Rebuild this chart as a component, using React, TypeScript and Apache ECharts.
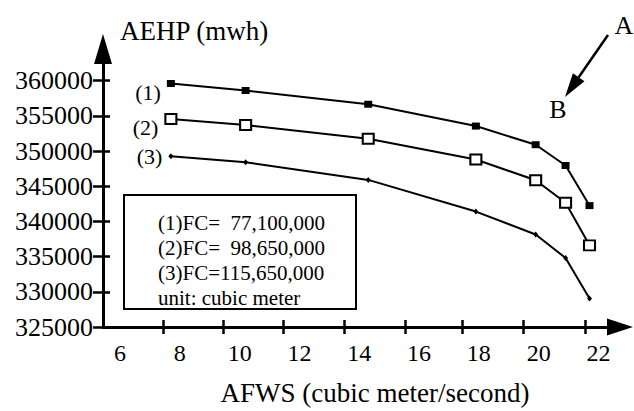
import React, { useEffect, useRef } from "react";
import * as echarts from "echarts";

const FONT = "Liberation Serif";

// AFWS values (cubic meter/second)
const afws = [7.7, 10.2, 14.3, 17.9, 19.9, 20.9, 21.7];
// AEHP (mwh) for each FC case
const series1 = [359600, 358600, 356650, 353550, 350900, 347950, 342250];
const series2 = [354550, 353700, 351750, 348800, 345850, 342650, 336600];
const series3 = [349250, 348400, 345900, 341400, 338150, 334800, 329050];
const seriesNames = ["(1)", "(2)", "(3)"];

const xLabelValues = [6, 8, 10, 12, 14, 16, 18, 20, 22];
const xTickValues = [7.45, 9.45, 11.45, 13.5, 15.55, 17.45, 19.5, 21.55];
const yTickValues = [325000, 330000, 335000, 340000, 345000, 350000, 355000, 360000];

const boxLines = [
  "(1)FC=\u00a0\u00a077,100,000",
  "(2)FC=\u00a0\u00a098,650,000",
  "(3)FC=115,650,000",
  "unit: cubic meter",
];

export default function App() {
  const ref = useRef<HTMLDivElement>(null);

  useEffect(() => {
    if (!ref.current) return;
    const chart = echarts.init(ref.current, null, { renderer: "svg" });

    const xMin = 5.43;
    const xMax = 22.72;
    const yMin = 325000;
    const yMax = 364500;

    const mk = (vals: number[]) => vals.map((v, i) => [afws[i], v]);

    const firstLabel = (name: string, offset: number[]) => ({
      show: true,
      position: "left",
      formatter: name,
      offset,
      color: "#000",
      fontFamily: FONT,
      fontSize: 22,
    });

    const buildData = (vals: number[], name: string, offset: number[]) =>
      mk(vals).map((p, i) =>
        i === 0 ? { value: p, label: firstLabel(name, offset) } : { value: p }
      );

    const headTip = [565, 97];
    const tail = [608, 35];
    const dx = headTip[0] - tail[0];
    const dy = headTip[1] - tail[1];
    const len = Math.sqrt(dx * dx + dy * dy);
    const ux = dx / len;
    const uy = dy / len;
    const hl = 24;
    const hw = 7;
    const bx = headTip[0] - ux * hl;
    const by = headTip[1] - uy * hl;

    chart.setOption({
      animation: false,
      backgroundColor: "#fff",
      grid: { left: 103, right: 14, top: 49, bottom: 80, containLabel: false },
      xAxis: [
        {
          type: "value",
          min: xMin,
          max: xMax,
          position: "bottom",
          name: "AFWS (cubic meter/second)",
          nameLocation: "middle",
          nameGap: 52,
          nameTextStyle: {
            color: "#000",
            fontFamily: FONT,
            fontSize: 27,
            padding: [0, 0, 0, 27],
          },
          axisLine: {
            show: true,
            lineStyle: { color: "#000", width: 3 },
            symbol: ["none", "triangle"],
            symbolSize: [17, 26],
          },
          axisTick: {
            show: true,
            length: 7,
            customValues: xTickValues,
            lineStyle: { color: "#000", width: 2.5 },
          },
          axisLabel: {
            show: true,
            customValues: xLabelValues,
            margin: 14,
            color: "#000",
            fontFamily: FONT,
            fontSize: 24,
          },
          splitLine: { show: false },
        },
        {
          type: "value",
          min: xMin,
          max: xMax,
          position: "bottom",
          axisLine: { show: false },
          axisTick: {
            show: true,
            inside: true,
            length: 7,
            customValues: xTickValues,
            lineStyle: { color: "#000", width: 2.5 },
          },
          axisLabel: { show: false },
          splitLine: { show: false },
        },
      ],
      yAxis: [
        {
          type: "value",
          min: yMin,
          max: yMax,
          position: "left",
          name: "AEHP (mwh)",
          nameLocation: "end",
          nameGap: 5,
          nameTextStyle: {
            color: "#000",
            fontFamily: FONT,
            fontSize: 27,
            align: "left",
            verticalAlign: "bottom",
            padding: [0, 0, 0, 17],
          },
          axisLine: {
            show: true,
            lineStyle: { color: "#000", width: 3 },
            symbol: ["none", "triangle"],
            symbolSize: [18, 30],
          },
          axisTick: {
            show: true,
            length: 10,
            customValues: yTickValues,
            lineStyle: { color: "#000", width: 2.5 },
          },
          axisLabel: {
            show: true,
            customValues: yTickValues,
            formatter: (v: number) => String(v),
            margin: 10,
            color: "#000",
            fontFamily: FONT,
            fontSize: 26,
          },
          splitLine: { show: false },
        },
        {
          type: "value",
          min: yMin,
          max: yMax,
          position: "left",
          axisLine: { show: false },
          axisTick: {
            show: true,
            inside: true,
            length: 7,
            customValues: yTickValues,
            lineStyle: { color: "#000", width: 2.5 },
          },
          axisLabel: { show: false },
          splitLine: { show: false },
        },
      ],
      series: [
        {
          type: "line",
          name: "FC1",
          data: buildData(series1, seriesNames[0], [-1, 9]),
          symbol: "rect",
          symbolSize: [8, 7],
          lineStyle: { color: "#000", width: 2 },
          itemStyle: { color: "#000", borderColor: "#000", borderWidth: 0 },
          z: 3,
        },
        {
          type: "line",
          name: "FC2",
          data: buildData(series2, seriesNames[1], [-1, 8]),
          symbol: "rect",
          symbolSize: [11, 10],
          lineStyle: { color: "#000", width: 2 },
          itemStyle: { color: "#fff", borderColor: "#000", borderWidth: 2 },
          z: 3,
        },
        {
          type: "line",
          name: "FC3",
          data: buildData(series3, seriesNames[2], [-1, 0]),
          symbol: "diamond",
          symbolSize: [5, 6],
          lineStyle: { color: "#000", width: 2 },
          itemStyle: { color: "#000", borderColor: "#000", borderWidth: 0 },
          z: 3,
        },
      ],
      graphic: [
        {
          type: "group",
          left: 123,
          top: 194,
          children: [
            {
              type: "rect",
              shape: { x: 0, y: 0, width: 232, height: 114 },
              style: { fill: "#fff", stroke: "#000", lineWidth: 2 },
            },
            ...boxLines.map((t, i) => ({
              type: "text",
              x: 34,
              y: 28 + i * 25,
              style: {
                text: t,
                fill: "#000",
                font: `21px "${FONT}"`,
                textVerticalAlign: "middle",
              },
            })),
          ],
        },
        {
          type: "text",
          x: 624,
          y: 25,
          style: {
            text: "A",
            fill: "#000",
            font: `26px "${FONT}"`,
            textAlign: "center",
            textVerticalAlign: "middle",
          },
        },
        {
          type: "text",
          x: 558,
          y: 109,
          style: {
            text: "B",
            fill: "#000",
            font: `26px "${FONT}"`,
            textAlign: "center",
            textVerticalAlign: "middle",
          },
        },
        {
          type: "line",
          shape: { x1: tail[0], y1: tail[1], x2: bx, y2: by },
          style: { stroke: "#000", lineWidth: 2.5 },
        },
        {
          type: "polygon",
          shape: {
            points: [
              headTip,
              [bx - uy * hw, by + ux * hw],
              [bx + uy * hw, by - ux * hw],
            ],
          },
          style: { fill: "#000" },
        },
      ],
    });

    return () => chart.dispose();
  }, []);

  return (
    <div
      ref={ref}
      style={{ position: "fixed", left: 0, top: 0, width: 634, height: 411 }}
    />
  );
}
